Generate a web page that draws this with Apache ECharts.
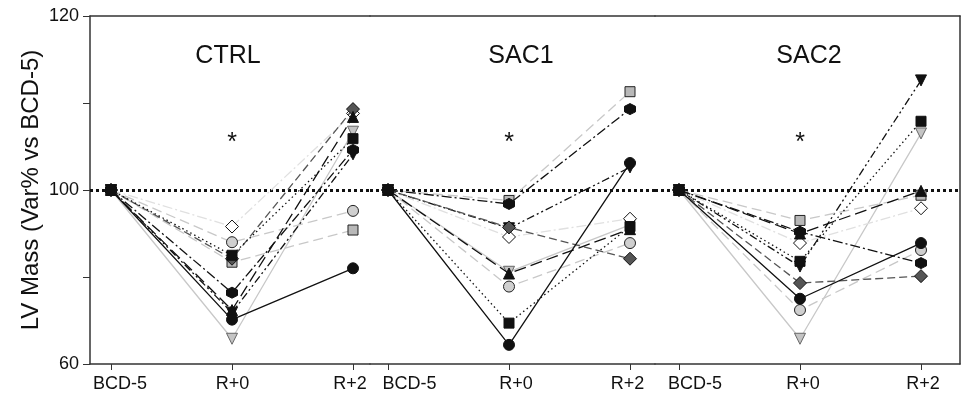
<!DOCTYPE html>
<html>
<head>
<meta charset="utf-8">
<script src="https://cdn.jsdelivr.net/npm/echarts@6.0.0/dist/echarts.min.js"></script>
<style>
  html, body { margin: 0; padding: 0; background: #fff; }
  #chart { width: 967px; height: 394px; }
</style>
</head>
<body>
<div id="chart"></div>
<script>
const categories = ["BCD-5", "R+0", "R+2"];
const panels = ["CTRL", "SAC1", "SAC2"];
const yTickValues = [80, 90, 100, 110, 120];
const yTickLabels = ["60", "", "100", "", "120"];

// one array per subject: [CTRL, SAC1, SAC2], each [BCD-5, R+0, R+2]
const blackCircle = [[100, 85.1, 91.0], [100, 82.2, 103.1], [100, 87.5, 93.9]];
const grayCircle = [[100, 94.0, 97.6], [100, 88.9, 93.9], [100, 86.2, 93.1]];
const graySquare = [[100, 91.7, 95.4], [100, 98.8, 111.3], [100, 96.5, 99.4]];
const blackSquare = [[100, 92.5, 105.9], [100, 84.7, 95.8], [100, 91.8, 107.9]];
const darkDiamond = [[100, 92.1, 109.3], [100, 95.7, 92.1], [100, 89.3, 90.1]];
const whiteDiamond = [[100, 95.8, 108.8], [100, 94.6, 96.7], [100, 93.9, 97.9]];
const blackTriUp = [[100, 86.2, 108.4], [100, 90.4, 95.5], [100, 95.0, 99.9]];
const blackTriDown = [[100, 85.9, 104.1], [100, 95.6, 102.6], [100, 91.2, 112.6]];
const grayTriDown = [[100, 82.9, 106.7], [100, 90.6, 96.0], [100, 82.9, 106.5]];
const blackHex = [[100, 88.2, 104.6], [100, 98.4, 109.3], [100, 95.2, 91.6]];

const FONT = "'Liberation Sans', Arial, sans-serif";
const HEX = "path://M0,-1L0.866,-0.5L0.866,0.5L0,1L-0.866,0.5L-0.866,-0.5Z";

// drawing order: first entries lie underneath
const subjects = [
  { data: grayTriDown, symbol: "triangle", rotate: 180, size: 11, fill: "#c4c4c4", border: "#666", line: "#c8c8c8", dash: "solid" },
  { data: whiteDiamond, symbol: "diamond", size: 13, fill: "#fff", border: "#111", line: "#e0e0e0", dash: [10, 3, 2, 3] },
  { data: blackTriDown, symbol: "triangle", rotate: 180, size: 11, fill: "#111", border: "#111", line: "#111", dash: [8, 3, 2, 3, 2, 3] },
  { data: grayCircle, symbol: "circle", size: 11, fill: "#cfcfcf", border: "#222", line: "#c8c8c8", dash: [10, 5] },
  { data: graySquare, symbol: "rect", size: 10, fill: "#b8b8b8", border: "#222", line: "#c8c8c8", dash: [10, 5] },
  { data: darkDiamond, symbol: "diamond", size: 13, fill: "#555", border: "#111", line: "#555", dash: [8, 4] },
  { data: blackSquare, symbol: "rect", size: 10, fill: "#111", border: "#111", line: "#111", dash: [1.5, 3] },
  { data: blackHex, symbol: HEX, size: 11, fill: "#111", border: "#111", line: "#111", dash: [10, 3, 2, 3] },
  { data: blackTriUp, symbol: "triangle", size: 11, fill: "#111", border: "#111", line: "#111", dash: [12, 5] },
  { data: blackCircle, symbol: "circle", size: 11, fill: "#111", border: "#111", line: "#111", dash: "solid" },
];

// panel frames in pixels, and x ranges so that categories fall 121px apart
const gridBoxes = [
  { left: 90, width: 280, min: -0.1736, max: 2.1405, labelAt: [0.074, 1.004, 1.975] },
  { left: 370, width: 285, min: -0.1488, max: 2.2066, labelAt: [0.178, 1.058, 1.98] },
  { left: 655, width: 305, min: -0.1983, max: 2.3223, labelAt: [0.132, 1.025, 2.017] },
];

const frameLine = { show: true, onZero: false, lineStyle: { color: "#333", width: 1.5 } };

const chart = echarts.init(document.getElementById("chart"));

const grids = gridBoxes.map((g) => ({ left: g.left, width: g.width, top: 16, bottom: 30 }));

const xAxes = [];
gridBoxes.forEach((g, i) => {
  xAxes.push({
    type: "value",
    gridIndex: i,
    position: "bottom",
    min: g.min,
    max: g.max,
    axisLine: frameLine,
    splitLine: { show: false },
    axisTick: { show: true, inside: false, length: 6, customValues: [0, 1, 2], lineStyle: { color: "#333" } },
    axisLabel: {
      customValues: g.labelAt,
      margin: 11,
      color: "#111",
      fontSize: 18,
      fontFamily: FONT,
      formatter: (v) => categories[Math.round(v)],
    },
  });
  xAxes.push({
    type: "value",
    gridIndex: i,
    position: "top",
    min: g.min,
    max: g.max,
    axisLine: frameLine,
    splitLine: { show: false },
    axisTick: { show: false },
    axisLabel: { show: false },
  });
});

const yAxes = [
  {
    type: "value",
    gridIndex: 0,
    min: 80,
    max: 120,
    interval: 10,
    axisLine: frameLine,
    splitLine: { show: false },
    axisTick: { show: true, inside: false, length: 7, lineStyle: { color: "#333" } },
    axisLabel: {
      margin: 11,
      color: "#111",
      fontSize: 18,
      fontFamily: FONT,
      formatter: (v) => yTickLabels[yTickValues.indexOf(v)] || "",
    },
    name: "LV Mass (Var% vs BCD-5)",
    nameLocation: "middle",
    nameGap: 47,
    nameTextStyle: { fontSize: 24, fontFamily: FONT, color: "#111" },
  },
  { type: "value", gridIndex: 1, min: 80, max: 120, show: false },
  { type: "value", gridIndex: 2, min: 80, max: 120, show: false },
  {
    type: "value",
    gridIndex: 2,
    position: "right",
    min: 80,
    max: 120,
    axisLine: frameLine,
    splitLine: { show: false },
    axisTick: { show: false },
    axisLabel: { show: false },
  },
];

const series = [];
panels.forEach((panel, p) => {
  subjects.forEach((s, k) => {
    const item = {
      type: "line",
      name: panel + "-" + k,
      xAxisIndex: p * 2,
      yAxisIndex: p,
      data: s.data[p].map((v, c) => [c, v]),
      symbol: s.symbol,
      symbolSize: s.size,
      symbolRotate: s.rotate || 0,
      showAllSymbol: true,
      lineStyle: { color: s.line, width: 1.3, type: s.dash },
      itemStyle: { color: s.fill, borderColor: s.border, borderWidth: 1 },
      z: 3 + k,
      silent: true,
    };
    if (k === 0) {
      item.markLine = {
        silent: true,
        symbol: "none",
        label: { show: false },
        z: 2,
        lineStyle: { color: "#111", width: 3, type: [3, 3] },
        data: [{ yAxis: 100 }],
      };
    }
    series.push(item);
  });
});

const titleX = [228, 521, 809];
const starX = [232, 509, 800];
const graphic = [];
panels.forEach((panel, p) => {
  graphic.push({
    type: "text",
    x: titleX[p],
    y: 56,
    style: { text: panel, font: "25px " + FONT, fill: "#111", align: "center", verticalAlign: "middle" },
  });
  graphic.push({
    type: "text",
    x: starX[p],
    y: 143,
    style: { text: "*", font: "25px " + FONT, fill: "#111", align: "center", verticalAlign: "middle" },
  });
});

chart.setOption({
  animation: false,
  backgroundColor: "#fff",
  grid: grids,
  xAxis: xAxes,
  yAxis: yAxes,
  series: series,
  graphic: graphic,
});
</script>
</body>
</html>
